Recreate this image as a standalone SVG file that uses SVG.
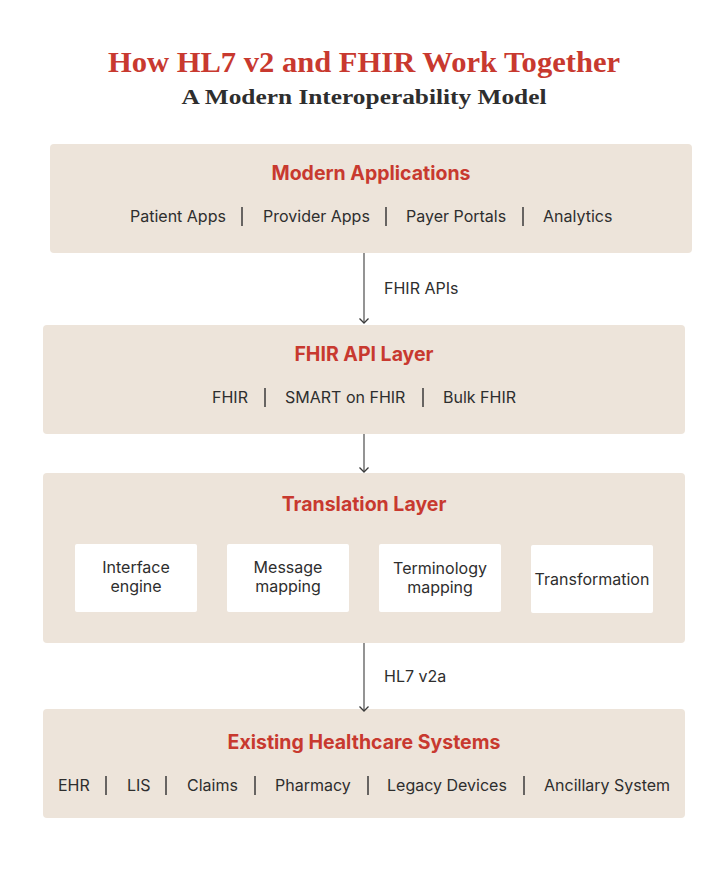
<svg xmlns="http://www.w3.org/2000/svg" width="728" height="883" viewBox="0 0 728 883">
<style>
.title{font-family:"Liberation Serif","DejaVu Serif",serif;font-weight:bold;fill:#c8392f;font-size:29px}
.sub{font-family:"Liberation Serif","DejaVu Serif",serif;font-weight:bold;fill:#2e2e2e;font-size:22px}
.layer{fill:#ede4da}
.inner{fill:#ffffff}
.h{font-family:Inter,"Liberation Sans",sans-serif;font-weight:700;fill:#c8392f;font-size:19.5px;text-anchor:middle}
.t{font-family:Inter,"Liberation Sans",sans-serif;fill:#2e2e2e;font-size:16px}
.c{text-anchor:middle}
.sep{stroke:#3a3a3a;stroke-width:1.5}
.conn{stroke:#5a5a5a;stroke-width:1.3;fill:none}
</style>
<defs>
<marker id="arr" markerWidth="12" markerHeight="12" refX="9" refY="6" orient="auto" markerUnits="userSpaceOnUse">
<polyline points="4.5,1.5 9,6 4.5,10.5" fill="none" stroke="#3a3a3a" stroke-width="1.3"/>
</marker>
</defs>
<rect width="728" height="883" fill="#ffffff"/>
<text class="title" x="364" y="72" text-anchor="middle" textLength="512" lengthAdjust="spacingAndGlyphs">How HL7 v2 and FHIR Work Together</text>
<text class="sub" x="364" y="104" text-anchor="middle" textLength="365" lengthAdjust="spacingAndGlyphs">A Modern Interoperability Model</text>

<g id="modern-applications">
<rect class="layer" x="50" y="144" width="642" height="109" rx="4"/>
<text class="h" x="371" y="180">Modern Applications</text>
<text class="t" x="130" y="222">Patient Apps</text>
<line class="sep" x1="242" y1="207" x2="242" y2="226"/>
<text class="t" x="263" y="222">Provider Apps</text>
<line class="sep" x1="386" y1="207" x2="386" y2="226"/>
<text class="t" x="406" y="222">Payer Portals</text>
<line class="sep" x1="523" y1="207" x2="523" y2="226"/>
<text class="t" x="543" y="222">Analytics</text>
</g>

<g id="fhir-api-layer">
<rect class="layer" x="43" y="325" width="642" height="109" rx="4"/>
<text class="h" x="364" y="361">FHIR API Layer</text>
<text class="t" x="212" y="403">FHIR</text>
<line class="sep" x1="265" y1="388" x2="265" y2="407"/>
<text class="t" x="285" y="403">SMART on FHIR</text>
<line class="sep" x1="423" y1="388" x2="423" y2="407"/>
<text class="t" x="443" y="403">Bulk FHIR</text>
</g>

<g id="translation-layer">
<rect class="layer" x="43" y="473" width="642" height="170" rx="4"/>
<text class="h" x="364" y="511">Translation Layer</text>
<g id="interface-engine">
<rect class="inner" x="75" y="544" width="122" height="68" rx="2"/>
<text class="t c" x="136" y="573">Interface</text>
<text class="t c" x="136" y="592">engine</text>
</g>
<g id="message-mapping">
<rect class="inner" x="227" y="544" width="122" height="68" rx="2"/>
<text class="t c" x="288" y="573">Message</text>
<text class="t c" x="288" y="592">mapping</text>
</g>
<g id="terminology-mapping">
<rect class="inner" x="379" y="544" width="122" height="68" rx="2"/>
<text class="t c" x="440" y="574">Terminology</text>
<text class="t c" x="440" y="593">mapping</text>
</g>
<g id="transformation">
<rect class="inner" x="531" y="545" width="122" height="68" rx="2"/>
<text class="t c" x="592" y="585">Transformation</text>
</g>
</g>

<g id="existing-healthcare-systems">
<rect class="layer" x="43" y="709" width="642" height="109" rx="4"/>
<text class="h" x="364" y="749">Existing Healthcare Systems</text>
<text class="t" x="58" y="791">EHR</text>
<line class="sep" x1="106" y1="776" x2="106" y2="795"/>
<text class="t" x="127" y="791">LIS</text>
<line class="sep" x1="166" y1="776" x2="166" y2="795"/>
<text class="t" x="187" y="791">Claims</text>
<line class="sep" x1="255" y1="776" x2="255" y2="795"/>
<text class="t" x="275" y="791">Pharmacy</text>
<line class="sep" x1="368" y1="776" x2="368" y2="795"/>
<text class="t" x="387" y="791">Legacy Devices</text>
<line class="sep" x1="524" y1="776" x2="524" y2="795"/>
<text class="t" x="544" y="791">Ancillary System</text>
</g>

<g id="connectors">
<line class="conn" x1="364" y1="253" x2="364" y2="323" marker-end="url(#arr)"/>
<text class="t" x="384" y="294">FHIR APIs</text>
<line class="conn" x1="364" y1="434" x2="364" y2="472" marker-end="url(#arr)"/>
<line class="conn" x1="364" y1="643" x2="364" y2="711" marker-end="url(#arr)"/>
<text class="t" x="384" y="682">HL7 v2a</text>
</g>
</svg>
